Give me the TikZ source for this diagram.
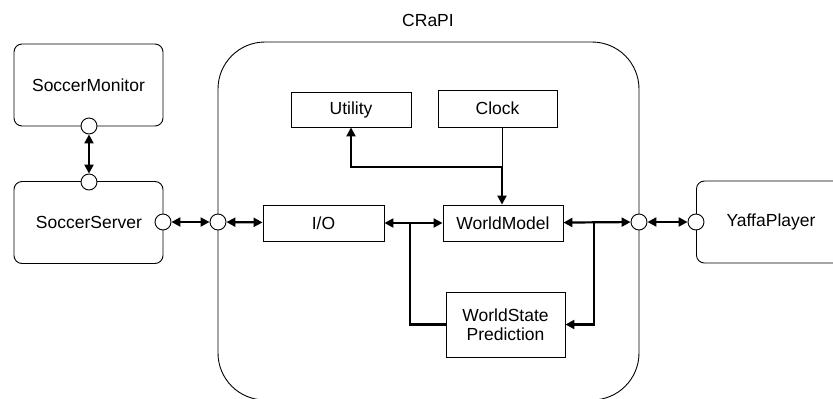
\documentclass[tikz,border=0pt]{standalone}
\usepackage{fontspec}
\setmainfont{Liberation Sans}
\usetikzlibrary{arrows.meta}
\begin{document}
\begin{tikzpicture}[x=1pt,y=-1pt,
  txt/.style={font=\fontsize{17.5}{20}\selectfont},
  comp/.style={draw, rounded corners=8pt, line width=0.9pt, inner sep=0, txt},
  unit/.style={draw, line width=0.9pt, inner sep=0, align=center, txt},
  port/.style={draw, circle, fill=white, minimum size=16pt, inner sep=0, line width=0.9pt},
  tip/.tip={Triangle[length=9pt,width=9pt]},
  link/.style={line width=2.2pt, tip-tip},
  bus/.style={line width=2.2pt},
  feed/.style={line width=0.9pt}]
\clip (0,0) rectangle (833,399);

% framework boundary
\node[draw, rounded corners=47pt, line width=0.9pt, minimum width=421pt, minimum height=358pt] (crapi) at (428.5,221) {};
\node[txt] (crapilabel) at (428,20) {CRaPI};

% external components
\node[comp, minimum width=149pt, minimum height=82pt] (mon) at (88.5,85) {SoccerMonitor};
\node[comp, minimum width=149pt, minimum height=82pt] (srv) at (88.5,222.5) {};
\node[txt] (srvtext) at (89,222) {SoccerServer};
\node[comp, minimum width=170pt, minimum height=82pt, anchor=west] (yaffa) at (696,222) {};
\node[txt] (yaffatext) at (771,222) {YaffaPlayer};

% internal modules
\node[unit, minimum width=120pt, minimum height=35pt] (util) at (351,109.5) {Utility};
\node[unit, minimum width=119pt, minimum height=37pt] (clock) at (497.5,108.5) {Clock};
\node[unit, minimum width=121pt, minimum height=36pt] (io) at (323.5,223) {I/O};
\node[unit, minimum width=120pt, minimum height=36pt] (wm) at (503,223) {WorldModel};
\node[unit, minimum width=119pt, minimum height=65pt] (wsp) at (505.5,324.5) {WorldState\\[-1pt]Prediction};

% ports
\node[port] (monp) at (89,126) {};
\node[port] (srvtop) at (89,182) {};
\node[port] (srvright) at (163,222) {};
\node[port] (cleft) at (218,222) {};
\node[port] (cright) at (639,222) {};
\node[port] (yport) at (696,222) {};

% connections between ports and modules
\draw[link] (monp) -- (srvtop);
\draw[link] (srvright) -- (cleft);
\draw[link] (cleft) -- (io);
\draw[link] (io) -- (wm);
\draw[link] (wm) -- (cright);
\draw[link] (cright) -- (yport);

% prediction loop
\coordinate (jin) at (410,223);
\coordinate (jout) at (594,223);
\draw[bus] (jin) |- (wsp.west);
\draw[bus, -tip] (jout) |- (wsp.east);

% clock distribution
\coordinate (jclk) at (502,167);
\draw[feed] (jclk |- clock.south) -- (jclk);
\draw[bus, -tip] (jclk) -- (jclk |- wm.north);
\draw[bus, -tip] (jclk) -| (util.south);
\end{tikzpicture}
\end{document}
